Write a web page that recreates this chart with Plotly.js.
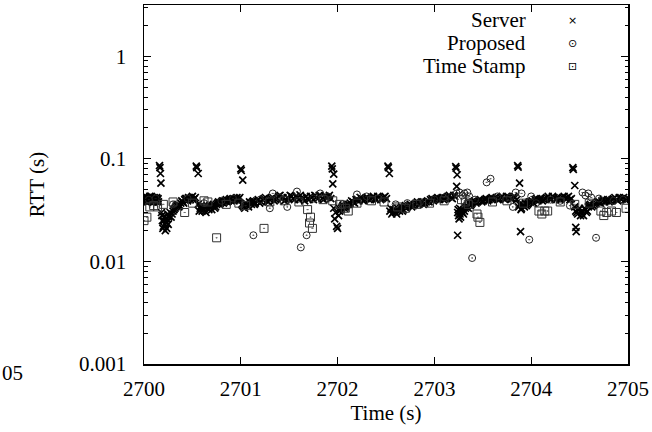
<!DOCTYPE html>
<html>
<head>
<meta charset="utf-8">
<script src="https://cdn.plot.ly/plotly-3.0.1.min.js"></script>
<style>html,body{margin:0;padding:0;background:#fff;}#chart{width:652px;height:432px;}</style>
</head>
<body>
<div id="chart"></div>
<script>
// ---- data ----
const seriesNames = ["Server", "Proposed", "Time Stamp"];
const xTickVals = [2700, 2701, 2702, 2703, 2704, 2705];
const xTickText = ["2700", "2701", "2702", "2703", "2704", "2705"];
const yTickVals = [0.001, 0.01, 0.1, 1];
const yTickText = ["0.001", "0.01", "0.1", "1"];

const serverT = [
 2700.00,2700.01,2700.02,2700.03,2700.04,2700.05,2700.06,2700.07,2700.08,2700.09,2700.10,2700.11,2700.12,2700.13,2700.14,2700.15,
 2700.16,2700.165,2700.17,2700.175,
 2700.18,2700.19,2700.20,2700.21,2700.22,2700.23,2700.24,2700.25,2700.26,2700.27,2700.28,2700.30,2700.32,2700.34,2700.36,2700.38,2700.40,2700.42,2700.44,2700.46,2700.48,2700.50,2700.52,
 2700.54,2700.545,2700.56,
 2700.56,2700.58,2700.60,2700.62,2700.64,2700.66,2700.68,2700.70,2700.72,2700.74,
 2700.76,2700.78,2700.80,2700.82,2700.84,2700.86,2700.88,2700.90,2700.92,2700.94,2700.96,2700.98,
 2701.00,2701.005,2701.02,
 2701.01,2701.03,2701.05,2701.07,2701.09,2701.11,2701.13,2701.15,2701.18,2701.21,2701.24,2701.27,2701.30,2701.33,2701.36,2701.39,2701.42,2701.45,2701.48,2701.51,2701.54,2701.57,2701.60,2701.63,2701.66,2701.69,2701.72,2701.75,2701.78,2701.81,2701.84,2701.87,2701.90,
 2701.94,2701.945,2701.96,2701.95,
 2701.96,2701.97,2701.98,2701.99,2702.00,2702.02,2702.04,2702.06,2702.08,2702.10,2702.13,2702.16,2702.19,2702.22,2702.25,2702.28,2702.31,2702.34,2702.37,2702.40,2702.43,2702.46,2702.49,
 2702.52,2702.525,2702.535,
 2702.54,2702.56,2702.58,2702.60,2702.62,2702.64,2702.66,2702.68,2702.70,2702.72,2702.75,2702.78,2702.81,2702.84,2702.87,2702.90,2702.93,2702.96,2702.99,2703.02,2703.05,2703.08,2703.11,2703.14,2703.17,2703.20,
 2703.22,2703.225,2703.235,2703.23,2703.24,
 2703.24,2703.25,2703.26,2703.27,2703.28,2703.30,2703.32,2703.34,2703.36,2703.38,2703.40,2703.43,2703.46,2703.49,2703.52,2703.55,2703.58,2703.61,2703.64,2703.67,2703.70,2703.73,2703.76,2703.79,2703.82,
 2703.86,2703.865,2703.88,2703.89,
 2703.88,2703.90,2703.92,2703.94,2703.96,2703.98,2704.01,2704.04,2704.07,2704.10,2704.13,2704.16,2704.19,2704.22,2704.25,2704.28,2704.31,2704.34,2704.37,2704.40,
 2704.43,2704.435,2704.45,2704.46,2704.465,
 2704.45,2704.47,2704.49,2704.51,2704.53,2704.55,2704.57,2704.59,2704.61,2704.64,2704.67,2704.70,2704.73,2704.76,2704.79,2704.82,2704.85,2704.88,2704.91,2704.94,2704.97,2705.00
];
const serverRTT = [
 0.041,0.039,0.042,0.040,0.038,0.041,0.043,0.039,0.040,0.042,0.038,0.041,0.039,0.042,0.040,0.038,
 0.086,0.082,0.072,0.058,
 0.030,0.025,0.022,0.027,0.020,0.024,0.026,0.023,0.028,0.030,0.027,0.031,0.033,0.035,0.034,0.037,0.038,0.040,0.041,0.042,0.040,0.043,0.041,
 0.085,0.082,0.072,
 0.036,0.033,0.031,0.034,0.030,0.033,0.035,0.032,0.036,0.034,
 0.037,0.036,0.038,0.037,0.039,0.038,0.040,0.039,0.041,0.040,0.042,0.041,
 0.080,0.077,0.062,
 0.036,0.034,0.037,0.035,0.038,0.036,0.039,0.037,0.040,0.038,0.041,0.039,0.040,0.042,0.040,0.043,0.041,0.039,0.042,0.044,0.041,0.043,0.040,0.042,0.039,0.041,0.043,0.040,0.042,0.044,0.041,0.043,0.042,
 0.085,0.080,0.071,0.057,
 0.033,0.026,0.030,0.022,0.021,0.031,0.033,0.035,0.034,0.036,0.037,0.038,0.040,0.039,0.041,0.040,0.042,0.041,0.043,0.040,0.042,0.041,0.043,
 0.085,0.082,0.072,
 0.031,0.029,0.032,0.030,0.033,0.031,0.034,0.032,0.035,0.034,0.036,0.035,0.037,0.036,0.038,0.037,0.039,0.040,0.039,0.041,0.040,0.042,0.041,0.043,0.042,0.044,
 0.084,0.081,0.070,0.054,0.018,
 0.030,0.028,0.033,0.027,0.031,0.029,0.033,0.035,0.037,0.036,0.038,0.037,0.039,0.038,0.040,0.039,0.041,0.040,0.042,0.041,0.043,0.040,0.042,0.041,0.043,
 0.086,0.083,0.058,0.0195,
 0.036,0.033,0.035,0.037,0.036,0.038,0.039,0.040,0.039,0.041,0.040,0.042,0.041,0.043,0.040,0.042,0.041,0.043,0.042,0.040,
 0.082,0.079,0.055,0.0215,0.0195,
 0.034,0.030,0.032,0.028,0.031,0.033,0.030,0.034,0.036,0.035,0.037,0.038,0.039,0.038,0.040,0.039,0.041,0.040,0.042,0.041,0.040,0.041
];

// second block of server samples (interleaved in time)
const serverT2 = [
 2700.005,2700.015,2700.025,2700.035,2700.045,2700.055,2700.065,2700.075,2700.085,2700.095,2700.105,2700.115,2700.125,2700.135,2700.145,
 2700.185,2700.195,2700.205,2700.215,2700.225,2700.235,2700.245,2700.255,2700.29,2700.31,2700.33,2700.35,2700.37,2700.39,2700.41,2700.43,2700.45,2700.47,2700.49,2700.51,2700.53,
 2700.57,2700.59,2700.61,2700.63,2700.65,2700.67,2700.69,2700.71,2700.73,2700.75,2700.77,2700.79,2700.81,2700.83,2700.85,2700.87,2700.89,2700.91,2700.93,2700.95,2700.97,2700.99,
 2701.02,2701.04,2701.06,2701.08,2701.10,2701.12,2701.14,2701.165,2701.195,2701.225,2701.255,2701.285,2701.315,2701.345,2701.375,2701.405,2701.435,2701.465,2701.495,2701.525,2701.555,2701.585,2701.615,2701.645,2701.675,2701.705,2701.735,2701.765,2701.795,2701.825,2701.855,2701.885,2701.915,2701.93,
 2702.01,2702.03,2702.05,2702.07,2702.09,2702.115,2702.145,2702.175,2702.205,2702.235,2702.265,2702.295,2702.325,2702.355,2702.385,2702.415,2702.445,2702.475,2702.505,
 2702.55,2702.57,2702.59,2702.61,2702.63,2702.65,2702.67,2702.69,2702.71,2702.735,2702.765,2702.795,2702.825,2702.855,2702.885,2702.915,2702.945,2702.975,2703.005,2703.035,2703.065,2703.095,2703.125,2703.155,2703.185,2703.21,
 2703.245,2703.255,2703.265,2703.275,2703.29,2703.31,2703.33,2703.35,2703.37,2703.39,2703.415,2703.445,2703.475,2703.505,2703.535,2703.565,2703.595,2703.625,2703.655,2703.685,2703.715,2703.745,2703.775,2703.805,2703.835,2703.85,
 2703.87,2703.895,2703.91,2703.93,2703.95,2703.97,2703.995,2704.025,2704.055,2704.085,2704.115,2704.145,2704.175,2704.205,2704.235,2704.265,2704.295,2704.325,2704.355,2704.385,2704.415,
 2704.46,2704.48,2704.50,2704.52,2704.54,2704.56,2704.58,2704.60,2704.625,2704.655,2704.685,2704.715,2704.745,2704.775,2704.805,2704.835,2704.865,2704.895,2704.925,2704.955,2704.985
];
const serverRTT2 = [
 0.043,0.040,0.038,0.042,0.040,0.039,0.041,0.043,0.038,0.040,0.042,0.039,0.041,0.038,0.041,
 0.028,0.021,0.025,0.023,0.026,0.021,0.029,0.027,0.029,0.032,0.034,0.036,0.035,0.039,0.037,0.041,0.039,0.041,0.042,0.040,0.042,
 0.031,0.035,0.033,0.031,0.035,0.032,0.034,0.035,0.033,0.036,0.038,0.037,0.039,0.038,0.040,0.039,0.041,0.040,0.039,0.041,0.040,0.042,
 0.035,0.033,0.036,0.034,0.037,0.038,0.036,0.039,0.037,0.040,0.042,0.038,0.041,0.039,0.041,0.044,0.042,0.040,0.041,0.043,0.040,0.042,0.044,0.041,0.043,0.040,0.042,0.044,0.041,0.043,0.040,0.042,0.044,0.041,
 0.028,0.032,0.034,0.033,0.035,0.036,0.039,0.037,0.040,0.042,0.039,0.041,0.040,0.042,0.041,0.043,0.040,0.042,0.041,
 0.033,0.030,0.031,0.029,0.032,0.033,0.031,0.034,0.033,0.035,0.034,0.036,0.038,0.037,0.036,0.038,0.038,0.041,0.040,0.042,0.041,0.040,0.042,0.044,0.041,0.043,
 0.032,0.026,0.029,0.032,0.030,0.031,0.034,0.033,0.035,0.037,0.039,0.038,0.040,0.039,0.041,0.040,0.042,0.041,0.040,0.042,0.041,0.043,0.042,0.041,0.042,0.040,
 0.034,0.032,0.036,0.034,0.035,0.037,0.038,0.037,0.041,0.040,0.039,0.041,0.043,0.040,0.042,0.041,0.040,0.042,0.041,0.043,0.041,
 0.031,0.029,0.033,0.030,0.028,0.032,0.031,0.035,0.034,0.036,0.038,0.037,0.040,0.039,0.038,0.040,0.042,0.039,0.041,0.042,0.040
];

const proposedT = [
 2700.05,2700.12,2700.30,2700.45,2700.62,2700.80,2700.92,2701.13,2701.20,2701.30,2701.33,2701.40,2701.48,2701.58,2701.62,2701.68,2701.75,2701.82,2701.90,
 2702.05,2702.20,2702.30,2702.42,2702.60,2702.72,2702.85,2703.00,2703.10,2703.18,2703.23,2703.26,2703.29,2703.31,2703.34,2703.36,2703.39,2703.42,2703.54,2703.58,2703.65,2703.78,2703.81,
 2703.84,2703.90,2703.98,2704.00,2704.05,2704.20,2704.30,2704.40,2704.53,2704.56,2704.59,2704.62,2704.67,2704.70,2704.85,2704.95
];
const proposedRTT = [
 0.040,0.041,0.036,0.041,0.037,0.039,0.041,0.018,0.040,0.033,0.046,0.042,0.034,0.048,0.0137,0.018,0.041,0.046,0.043,
 0.036,0.045,0.043,0.041,0.036,0.037,0.038,0.040,0.042,0.043,0.046,0.047,0.044,0.046,0.047,0.043,0.0108,0.040,0.059,0.064,0.043,0.042,0.034,
 0.047,0.046,0.0163,0.043,0.037,0.040,0.039,0.035,0.047,0.044,0.046,0.042,0.017,0.041,0.039,0.040
];

const stampT = [
 2700.00,2700.03,2700.06,2700.10,2700.14,2700.20,2700.30,2700.42,2700.50,2700.62,2700.66,2700.75,2700.85,2700.98,2701.05,2701.24,2701.30,2701.45,2701.60,
 2701.69,2701.71,2701.72,2701.74,2701.85,2701.95,2702.02,2702.08,2702.11,2702.20,2702.35,2702.48,2702.62,2702.70,2702.82,2702.95,2703.10,
 2703.28,2703.32,2703.35,2703.44,2703.45,2703.47,2703.60,2703.75,2703.92,2704.08,2704.11,2704.14,2704.17,2704.30,2704.45,2704.60,
 2704.72,2704.75,2704.78,2704.83,2704.88,2704.98
];
const stampRTT = [
 0.025,0.027,0.034,0.035,0.034,0.036,0.038,0.030,0.037,0.039,0.038,0.017,0.036,0.037,0.035,0.021,0.038,0.039,0.038,
 0.032,0.0237,0.027,0.021,0.040,0.039,0.036,0.033,0.031,0.037,0.039,0.038,0.034,0.033,0.036,0.037,0.039,
 0.040,0.038,0.036,0.029,0.027,0.024,0.038,0.039,0.037,0.031,0.029,0.031,0.031,0.038,0.036,0.037,
 0.031,0.028,0.030,0.031,0.030,0.033
];

// ---- styling ----
const serif = "Liberation Serif";
const fs = 21;

const traces = [
 {x: serverT.concat(serverT2), y: serverRTT.concat(serverRTT2), name: seriesNames[0], type: "scatter", mode: "markers",
  marker: {symbol: "x-thin-open", size: 7, color: "#000", line: {width: 1.7, color: "#000"}}},
 {x: proposedT, y: proposedRTT, name: seriesNames[1], type: "scatter", mode: "markers",
  marker: {symbol: "circle-open-dot", size: 7, color: "#222", line: {width: 1, color: "#222"}}},
 {x: stampT, y: stampRTT, name: seriesNames[2], type: "scatter", mode: "markers",
  marker: {symbol: "square-open-dot", size: 8, color: "#333", line: {width: 1, color: "#333"}}}
];

const legendGlyphs = ["\u00D7", "\u2299", "\u22A1"];
const legendY = [0.958, 0.894, 0.830];
const annotations = [];
seriesNames.forEach((n, i) => {
  annotations.push({xref: "paper", yref: "paper", x: 0.793, y: legendY[i], xanchor: "right", yanchor: "middle",
    text: n, showarrow: false, font: {family: serif, size: fs, color: "#000"}});
  annotations.push({xref: "paper", yref: "paper", x: 0.886, y: legendY[i], xanchor: "center", yanchor: "middle",
    text: legendGlyphs[i], showarrow: false, font: {family: "DejaVu Sans", size: 11, color: "#000"}});
});
// clipped tick label from a neighbouring panel at the far left
annotations.push({xref: "paper", yref: "paper", x: -144/484, y: -0.025, xanchor: "left", yanchor: "middle",
  text: "05", showarrow: false, font: {family: serif, size: fs, color: "#000"}});

const layout = {
  width: 652, height: 432,
  margin: {l: 144, r: 24, t: 5, b: 68},
  paper_bgcolor: "#fff", plot_bgcolor: "#fff",
  showlegend: false,
  font: {family: serif, size: fs, color: "#000"},
  xaxis: {
    range: [2700, 2705], tickmode: "array", tickvals: xTickVals, ticktext: xTickText,
    ticks: "inside", ticklen: 7, tickwidth: 1, tickcolor: "#000",
    showline: true, linecolor: "#000", linewidth: 1.5, mirror: "ticks",
    showgrid: false, zeroline: false, ticklabelstandoff: 5,
    tickfont: {family: serif, size: fs},
    title: {text: "Time (s)", font: {family: serif, size: fs}, standoff: 4}
  },
  yaxis: {
    type: "log", range: [-3, 0.5], tickmode: "array", tickvals: yTickVals, ticktext: yTickText,
    ticks: "inside", ticklen: 7, tickwidth: 1, tickcolor: "#000",
    showline: true, linecolor: "#000", linewidth: 1.5, mirror: "ticks",
    showgrid: false, zeroline: false, ticklabelstandoff: 12,
    tickfont: {family: serif, size: fs},
    minor: {ticks: "inside", ticklen: 3.5, dtick: "D1", tickcolor: "#000", tickwidth: 1, showgrid: false},
    title: {text: "RTT (s)", font: {family: serif, size: fs}, standoff: 28}
  },
  annotations: annotations
};

Plotly.newPlot("chart", traces, layout, {displayModeBar: false, staticPlot: true});
</script>
</body>
</html>
